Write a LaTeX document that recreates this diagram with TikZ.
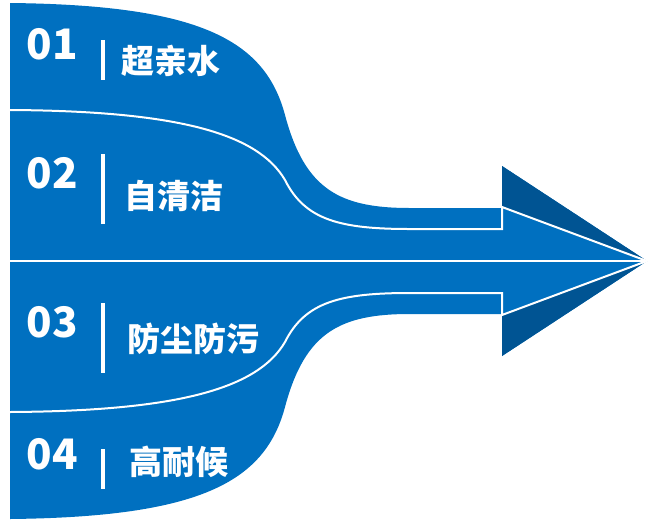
\documentclass[tikz,border=0pt]{standalone}
\usepackage{fontspec}
\setmainfont{Noto Sans CJK SC}
\usepackage{tikz}
\definecolor{bandblue}{RGB}{0,112,192}
\definecolor{tipblue}{RGB}{0,84,147}
\tikzset{
  num/.style={text=white,font=\fontsize{42}{42}\selectfont\bfseries,inner sep=0pt},
  lbl/.style={text=white,font=\fontsize{33}{33}\selectfont\bfseries,inner sep=0pt,anchor=west},
  vbar/.style={fill=white,draw=none},
  wline/.style={draw=white,line width=2pt,line join=miter},
}

\begin{document}
\begin{tikzpicture}[x=1pt,y=-1pt]
 \useasboundingbox (0,0) rectangle (651,523);
 % ---- body of the arrow
 \fill[bandblue] (10,3) .. controls (200,5) and (265,40) .. (285,115)
   .. controls (305,190) and (340,208) .. (410,208) -- (502,208) -- (502,166) -- (647,261)
   -- (502,356) -- (502,314) -- (410,314) .. controls (340,314) and (305,332) .. (285,407)
   .. controls (265,482) and (200,517) .. (10,519) -- cycle;
 % ---- dark wings of the head
 \fill[tipblue] (502,166) -- (647,261) -- (502,207) -- cycle;
 \fill[tipblue] (502,356) -- (647,261) -- (502,315) -- cycle;
 % ---- white band borders
 \draw[wline] (10,110) .. controls (180,111) and (258,134) .. (285,180)
   .. controls (305,220) and (340,229) .. (410,229) -- (502,229) -- (502,207) -- (647,261);
 \draw[wline] (10,261) -- (647,261);
 \draw[wline] (10,412) .. controls (180,411) and (258,388) .. (285,342)
   .. controls (305,302) and (340,293) .. (410,293) -- (502,293) -- (502,315) -- (647,261);
 % ---- numbers, bars and labels
 \foreach \k/\ny/\bt/\bb/\tx/\ty/\t in {01/44/40/80/121/61/超亲水,02/173/154/224/124/196/自清洁,
   03/322/303/373/127/339/防尘防污,04/454/449/489/129/462/高耐候}{
   \node[num] (num\k) at (52,\ny) {\k};
   \fill[vbar] (101,\bt) rectangle (105,\bb);
   \node[lbl] (lbl\k) at (\tx,\ty) {\t};
 }
\end{tikzpicture}
\end{document}
